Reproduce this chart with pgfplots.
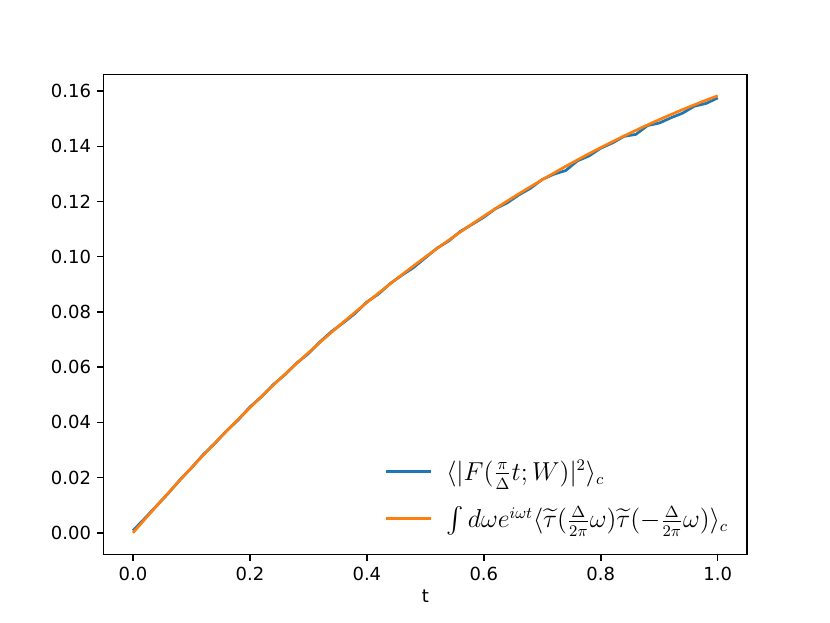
\documentclass[border=0pt]{standalone}
\usepackage{amsmath}
\usepackage{fontspec}
\setmainfont{DejaVu Sans}
\usepackage{pgfplots}
\pgfplotsset{compat=1.18}
\definecolor{mplblue}{HTML}{1F77B4}
\definecolor{mplorange}{HTML}{FF7F0E}

\begin{document}
\begin{tikzpicture}
% whole figure, 6.4in x 4.8in like the matplotlib canvas
\path[use as bounding box] (-57.6pt,-37.9pt) rectangle (403.3pt,308pt);
\begin{axis}[
  scale only axis,
  width=357.2pt, height=266.5pt,
  xmin=-0.05, xmax=1.05,
  ymin=-0.0079, ymax=0.1659,
  xtick={0,0.2,0.4,0.6,0.8,1.0},
  ytick={0,0.02,0.04,0.06,0.08,0.10,0.12,0.14,0.16},
  xtick pos=bottom, ytick pos=left,
  tick align=outside,
  major tick length=3.5pt,
  every tick/.style={black, line width=0.8pt},
  axis line style={line width=0.8pt},
  scaled y ticks=false,
  xticklabel style={/pgf/number format/.cd, fixed, fixed zerofill, precision=1},
  yticklabel style={/pgf/number format/.cd, fixed, fixed zerofill, precision=2},
  /pgf/number format/assume math mode=true,
  tick label style={font=\fontsize{10}{12}\selectfont},
  xlabel={t},
  xlabel style={font=\fontsize{10}{12}\selectfont, yshift=2pt},
  legend cell align=left,
  legend style={draw=none, fill=none, at={(0.985,0.035)}, anchor=south east,
    font=\fontsize{13.4}{16}\selectfont, row sep=9pt,
    /tikz/every odd column/.append style={column sep=6pt}},
  legend image code/.code={\draw[#1] (0pt,0pt) -- (25pt,0pt);},
]
\addplot[mplblue, line width=1.5pt] coordinates {
(0.00,0.0008) (0.02,0.0052) (0.04,0.0097) (0.06,0.0142) (0.08,0.0191)
(0.10,0.0235) (0.12,0.0283) (0.14,0.0324) (0.16,0.0369) (0.18,0.0409)
(0.20,0.0456) (0.22,0.0493) (0.24,0.0537) (0.26,0.0573) (0.28,0.0615)
(0.30,0.0649) (0.32,0.0692) (0.34,0.0730) (0.36,0.0761) (0.38,0.0795)
(0.40,0.0836) (0.42,0.0865) (0.44,0.0903) (0.46,0.0933) (0.48,0.0961)
(0.50,0.0996) (0.52,0.1031) (0.54,0.1057) (0.56,0.1092) (0.58,0.1117)
(0.60,0.1143) (0.62,0.1174) (0.64,0.1195) (0.66,0.1224) (0.68,0.1248)
(0.70,0.1280) (0.72,0.1299) (0.74,0.1312) (0.76,0.1347) (0.78,0.1365)
(0.80,0.1393) (0.82,0.1412) (0.84,0.1436) (0.86,0.1443) (0.88,0.1475)
(0.90,0.1484) (0.92,0.1503) (0.94,0.1520) (0.96,0.1545) (0.98,0.1555)
(1.00,0.1575)
};
\addlegendentry{$\langle|F(\tfrac{\pi}{\Delta}t;W)|^2\rangle_c$}
\addplot[mplorange, line width=1.5pt] coordinates {
(0.00,0.0000) (0.02,0.00487) (0.04,0.00966) (0.06,0.01437) (0.08,0.01901)
(0.10,0.02358) (0.12,0.02807) (0.14,0.03249) (0.16,0.03684) (0.18,0.04111)
(0.20,0.04531) (0.22,0.04944) (0.24,0.05349) (0.26,0.05748) (0.28,0.06139)
(0.30,0.06524) (0.32,0.06901) (0.34,0.07271) (0.36,0.07635) (0.38,0.07991)
(0.40,0.08341) (0.42,0.08684) (0.44,0.09020) (0.46,0.09349) (0.48,0.09672)
(0.50,0.09988) (0.52,0.10297) (0.54,0.10600) (0.56,0.10896) (0.58,0.11185)
(0.60,0.11468) (0.62,0.11745) (0.64,0.12015) (0.66,0.12279) (0.68,0.12537)
(0.70,0.12788) (0.72,0.13033) (0.74,0.13272) (0.76,0.13505) (0.78,0.13732)
(0.80,0.13952) (0.82,0.14166) (0.84,0.14375) (0.86,0.14577) (0.88,0.14774)
(0.90,0.14964) (0.92,0.15149) (0.94,0.15328) (0.96,0.15501) (0.98,0.15668)
(1.00,0.15830)
};
\addlegendentry{$\int d\omega e^{i\omega t}\langle\widetilde{\tau}(\tfrac{\Delta}{2\pi}\omega)\widetilde{\tau}(-\tfrac{\Delta}{2\pi}\omega)\rangle_c$}
\end{axis}
\end{tikzpicture}
\end{document}
